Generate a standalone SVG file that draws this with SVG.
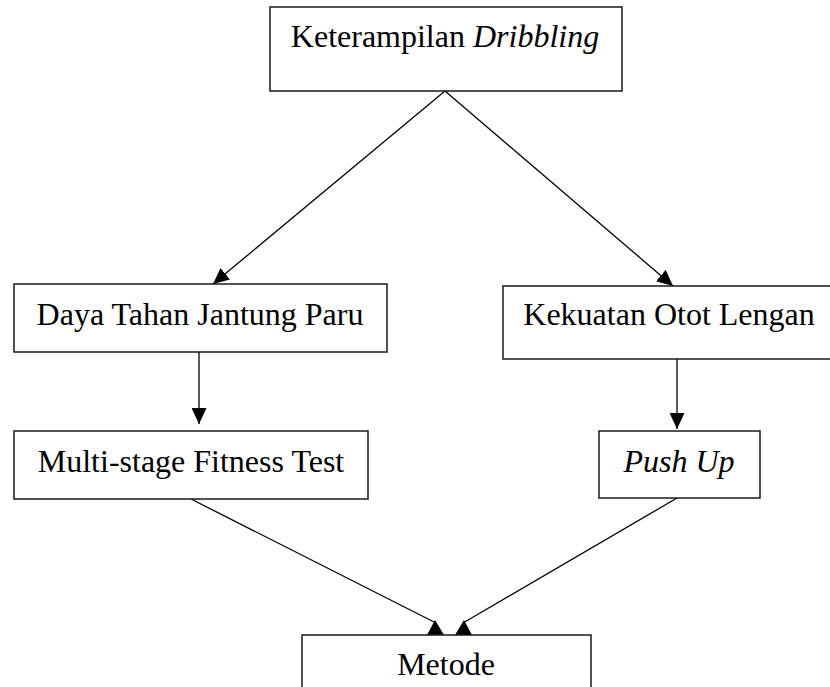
<svg xmlns="http://www.w3.org/2000/svg" width="830" height="687" viewBox="0 0 830 687">
<style>
.box{fill:#fff;stroke:#1a1a1a;stroke-width:1.5}
.lbl{font-family:"Liberation Serif","Times New Roman",serif;font-size:32px;fill:#000;text-anchor:middle}
.it{font-style:italic}
.ln{stroke:#000;stroke-width:1.3;fill:none}
.ah{fill:#000}
</style>
<defs>
<marker id="arr" markerUnits="userSpaceOnUse" markerWidth="16" markerHeight="15" refX="16" refY="7.5" orient="auto" viewBox="0 0 16 15">
<path d="M0,0 L16,7.5 L0,15 z" fill="#000"/>
</marker>
</defs>
<rect width="830" height="687" fill="#fff"/>
<g id="connectors">
<line class="ln" x1="445" y1="91" x2="213" y2="284" marker-end="url(#arr)"/>
<line class="ln" x1="445" y1="91" x2="673" y2="286" marker-end="url(#arr)"/>
<line class="ln" x1="199" y1="352" x2="199" y2="424" marker-end="url(#arr)"/>
<line class="ln" x1="677" y1="359" x2="677" y2="429" marker-end="url(#arr)"/>
<line class="ln" x1="191" y1="499" x2="436" y2="623"/>
<polygon class="ah" points="427,635 444,635 435,620"/>
<line class="ln" x1="677" y1="498" x2="463" y2="623"/>
<polygon class="ah" points="455,635 472,635 464,620"/>
</g>
<g id="node-keterampilan">
<rect class="box" x="270" y="7" width="352" height="84"/>
<text class="lbl" x="445" y="47">Keterampilan <tspan class="it">Dribbling</tspan></text>
</g>
<g id="node-daya">
<rect class="box" x="14" y="284" width="373" height="68"/>
<text class="lbl" x="200" y="325">Daya Tahan Jantung Paru</text>
</g>
<g id="node-kekuatan">
<rect class="box" x="503" y="286" width="340" height="73"/>
<text class="lbl" x="669" y="325">Kekuatan Otot Lengan</text>
</g>
<g id="node-multistage">
<rect class="box" x="14" y="431" width="354" height="68"/>
<text class="lbl" x="191" y="472">Multi-stage Fitness Test</text>
</g>
<g id="node-pushup">
<rect class="box" x="599" y="431" width="161" height="67"/>
<text class="lbl it" x="679" y="472">Push Up</text>
</g>
<g id="node-metode">
<rect class="box" x="302" y="635" width="289" height="70"/>
<text class="lbl" x="446" y="675">Metode</text>
</g>
</svg>
